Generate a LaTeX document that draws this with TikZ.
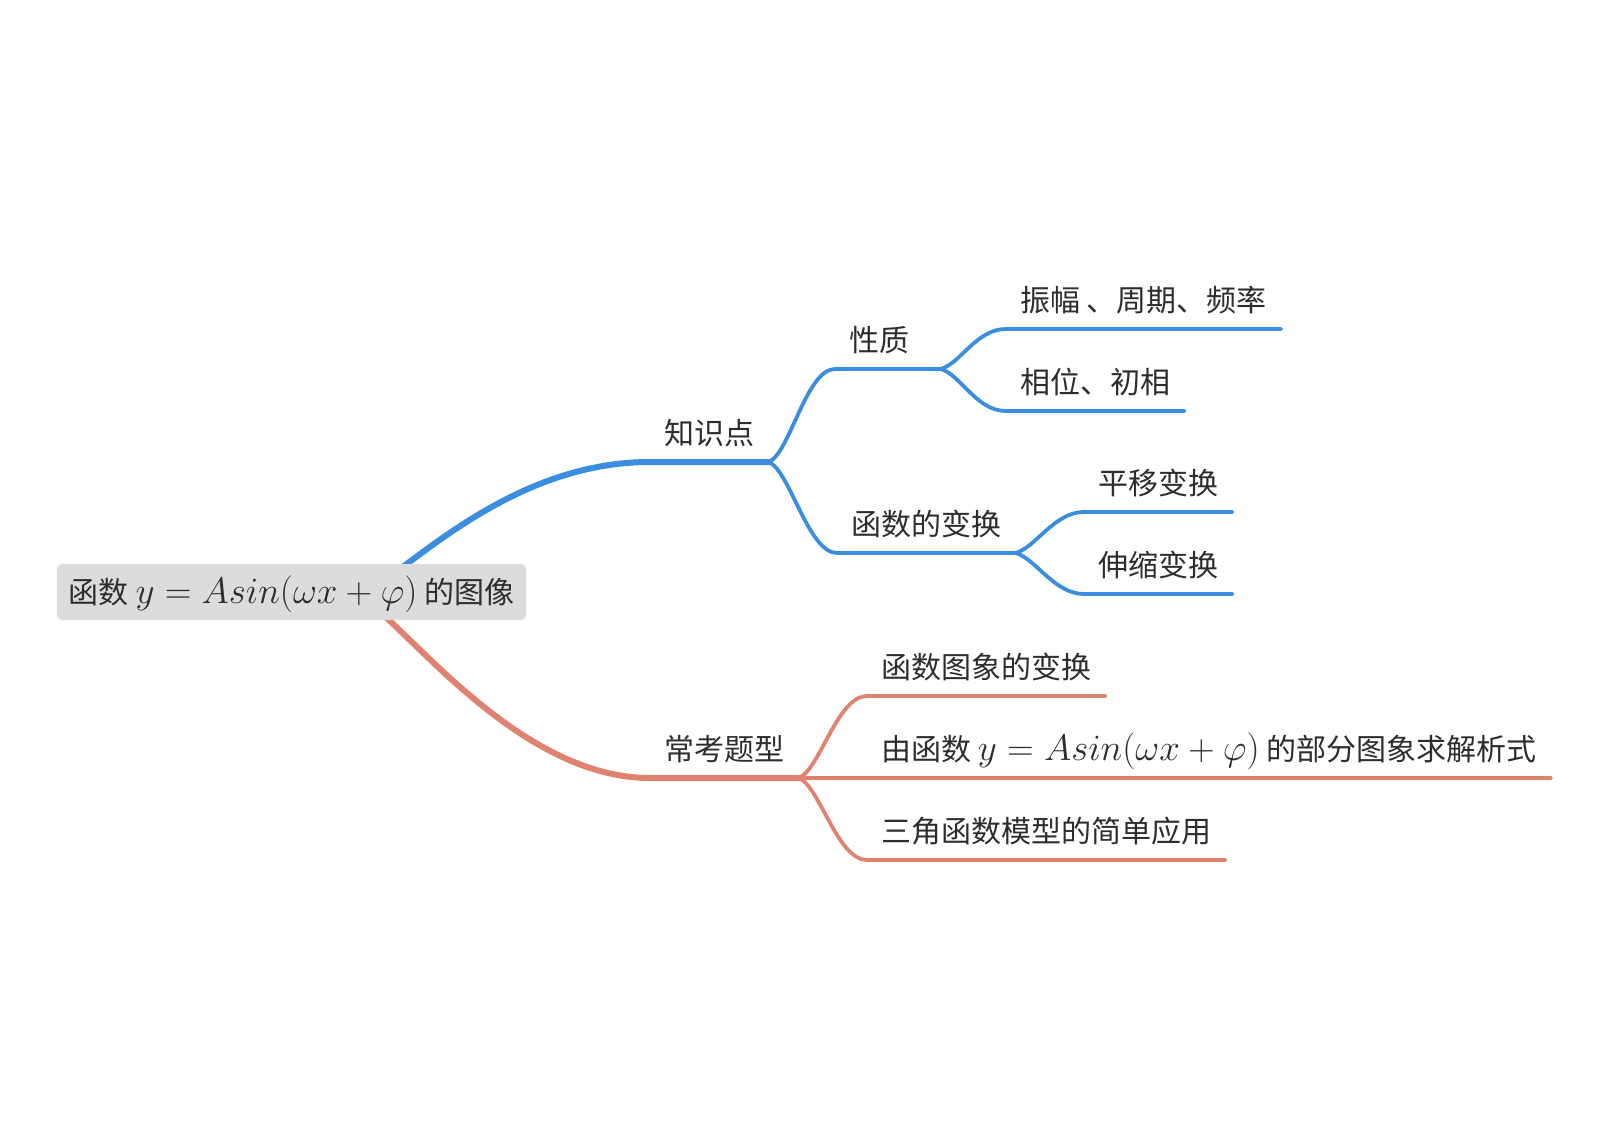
\RequirePackage{fix-cm}
\documentclass[tikz,border=0pt]{standalone}
\usepackage[no-math]{fontspec}
\setmainfont{Noto Sans CJK SC}
\usepackage{tikz}
\usetikzlibrary{backgrounds}
\definecolor{bleubranche}{RGB}{59, 141, 224}
\definecolor{rougebranche}{RGB}{224, 130, 112}
\definecolor{grisracine}{RGB}{220, 220, 220}
\definecolor{gristexte}{RGB}{45, 45, 45}
\newcommand{\formule}{{\fontsize{37}{40}\selectfont$y = Asin(\omega x + \varphi)$}}

\tikzset{
  racine/.style={fill=grisracine, rounded corners=6pt, inner xsep=12pt,
    inner ysep=0pt, minimum height=56pt, text=gristexte,
    text height=26.4pt, text depth=3.6pt, font=\fontsize{30}{36}\selectfont},
  sujet/.style={anchor=south west, inner xsep=14pt, inner ysep=12.5pt,
    text height=26pt, text depth=5pt, text=gristexte,
    font=\fontsize{30}{36}\selectfont},
  bleue/.style={draw=bleubranche, line cap=round},
  rouge/.style={draw=rougebranche, line cap=round},
  epaisse/.style={line width=6pt},
  fine/.style={line width=3.8pt}
}

\begin{document}
\begin{tikzpicture}[x=1pt, y=1pt]
  \useasboundingbox (0,0) rectangle (1606,-1134);

  \node[racine] (racine) at (291.5,-592) {函数 \formule{} 的图像};

  \node[sujet] (connaissances) at (650,-462) {知识点};
  \node[sujet, text width=77pt, align=left] (proprietes) at (835,-369) {性质};
  \node[sujet] (transformations) at (837,-553) {函数的变换};
  \node[sujet] (amplitude) at (1006,-329) {振幅 、周期、频率};
  \node[sujet] (phase) at (1006,-411) {相位、初相};
  \node[sujet] (translation) at (1084,-512) {平移变换};
  \node[sujet] (dilatation) at (1084,-594) {伸缩变换};

  \node[sujet] (exercices) at (650,-778) {常考题型};
  \node[sujet] (exoimage) at (867,-696) {函数图象的变换};
  \node[sujet] (exoanalytique) at (867,-778) {由函数 \formule{} 的部分图象求解析式};
  \node[sujet] (exomodele) at (867,-860) {三角函数模型的简单应用};

  \begin{scope}[on background layer]
    % branche bleue
    \draw[bleue, epaisse] ([shift={(88.5,8)}]racine.center)
      .. controls +(60,44) and +(-120,0) .. (connaissances.south west)
      -- (connaissances.south east);
    \draw[bleue, fine] (connaissances.south east)
      .. controls +(21,7) and +(-29,0) .. (proprietes.south west)
      -- (proprietes.south east);
    \draw[bleue, fine] (connaissances.south east)
      .. controls +(21,-7) and +(-29,0) .. (transformations.south west)
      -- (transformations.south east);
    \draw[bleue, fine] (proprietes.south east)
      .. controls +(20,5) and +(-30,0) .. (amplitude.south west)
      -- (amplitude.south east);
    \draw[bleue, fine] (proprietes.south east)
      .. controls +(20,-5) and +(-30,0) .. (phase.south west)
      -- (phase.south east);
    \draw[bleue, fine] (transformations.south east)
      .. controls +(20,5) and +(-30,0) .. (translation.south west)
      -- (translation.south east);
    \draw[bleue, fine] (transformations.south east)
      .. controls +(20,-5) and +(-30,0) .. (dilatation.south west)
      -- (dilatation.south east);
    % branche rouge
    \draw[rouge, epaisse] ([shift={(73.5,-8)}]racine.center)
      .. controls +(45,-30) and +(-130,0) .. (exercices.south west)
      -- (exercices.south east);
    \draw[rouge, fine] (exercices.south east)
      .. controls +(21,7) and +(-30,0) .. (exoimage.south west)
      -- (exoimage.south east);
    \draw[rouge, fine] (exercices.south east)
      -- (exoanalytique.south west) -- (exoanalytique.south east);
    \draw[rouge, fine] (exercices.south east)
      .. controls +(21,-7) and +(-30,0) .. (exomodele.south west)
      -- (exomodele.south east);
  \end{scope}
\end{tikzpicture}
\end{document}
